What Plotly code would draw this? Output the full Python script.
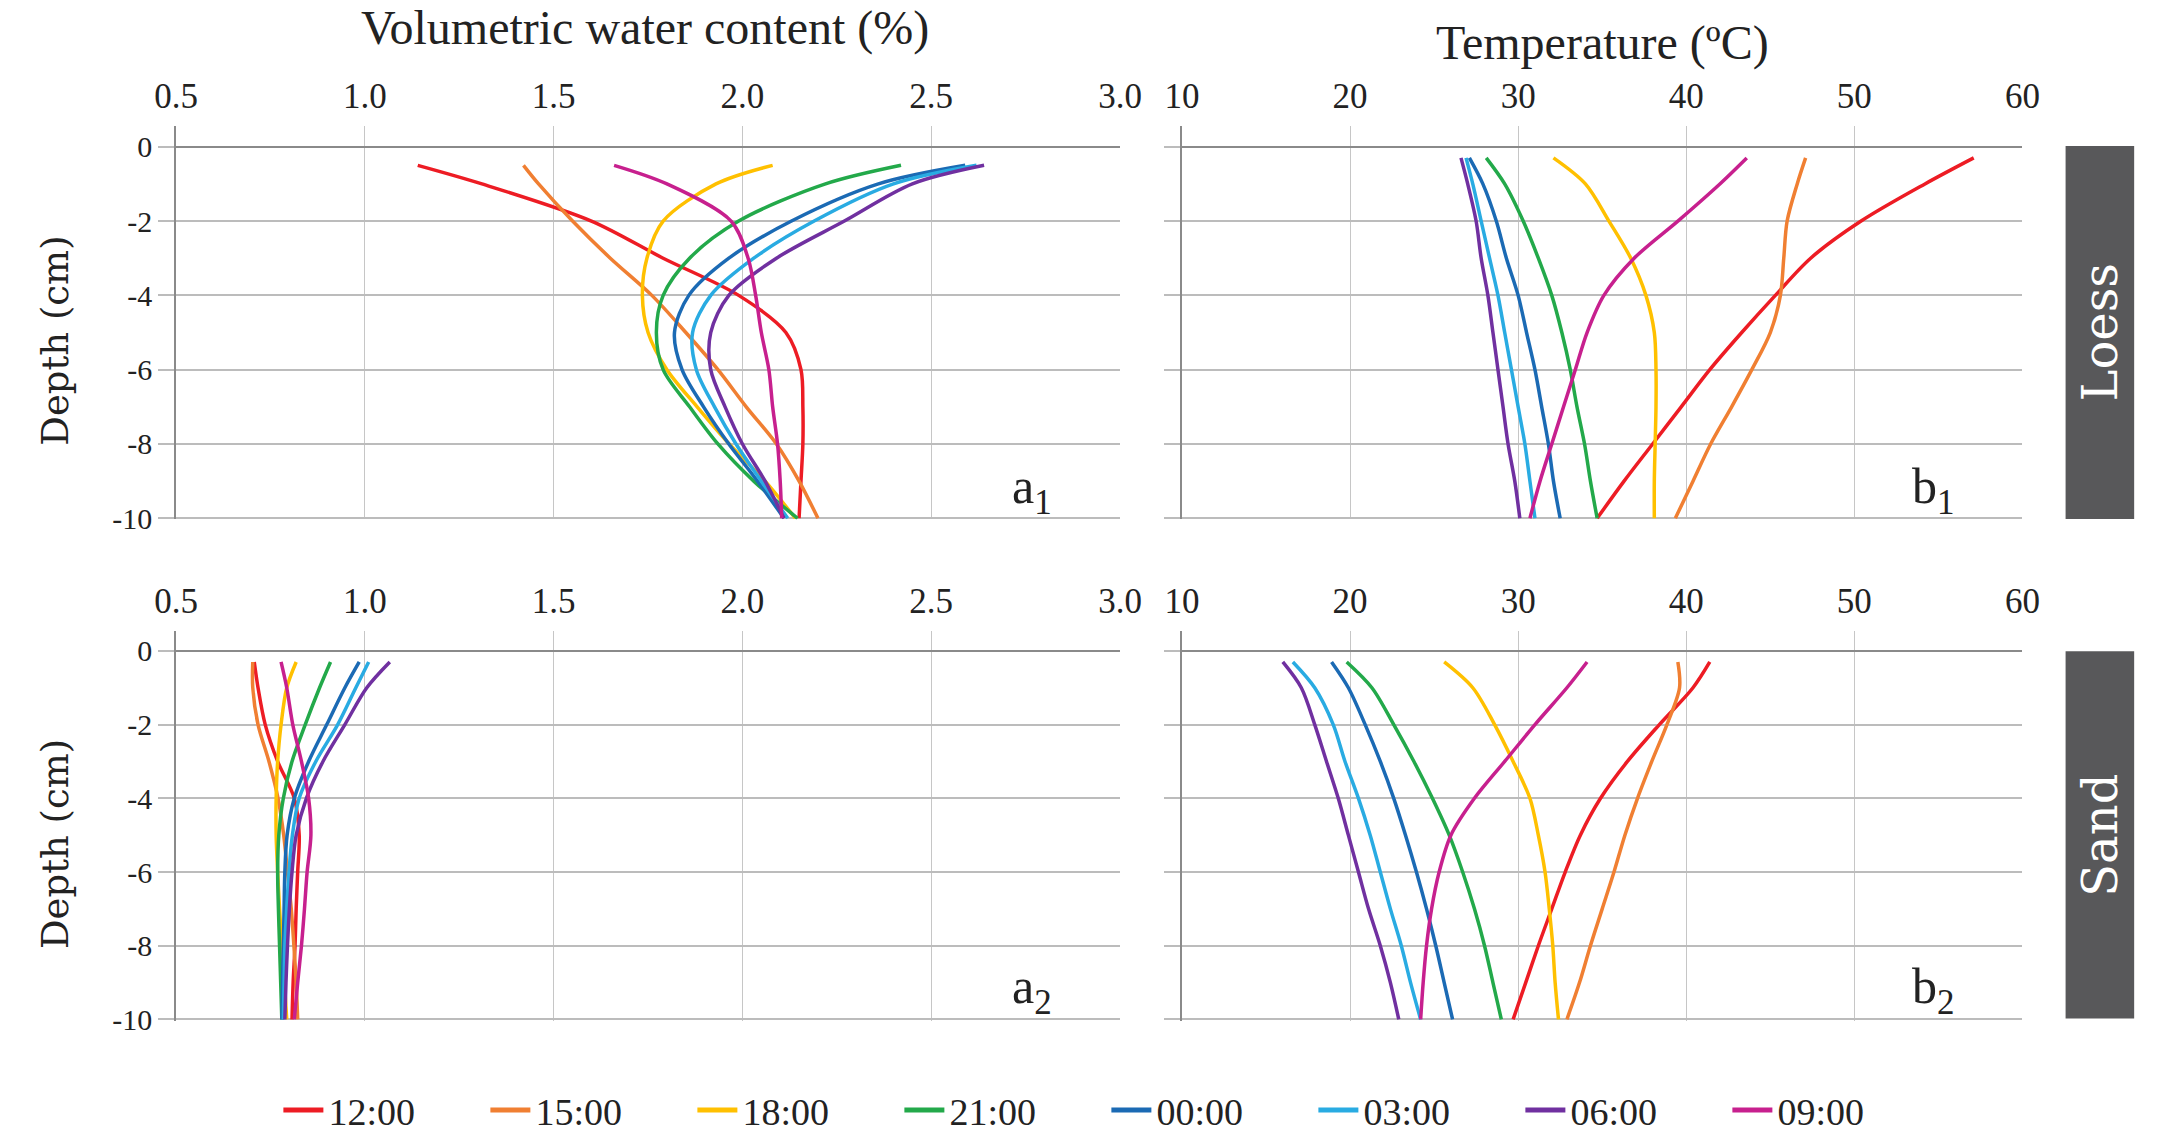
import plotly.graph_objects as go

W, H = 2164, 1144

times = ["12:00", "15:00", "18:00", "21:00", "00:00", "03:00", "06:00", "09:00"]
colors = ["#ED1C24", "#F07F32", "#FFC000", "#23A94A", "#1B6AB4", "#29ABE2", "#7030A0", "#C7208E"]

depth_a1 = [-0.5, -1, -2, -3, -4, -5, -6, -7, -8, -9, -10]
depth = [-0.3, -1, -2, -3, -4, -5, -6, -7, -8, -9, -10]
depth_ticks = [0, -2, -4, -6, -8, -10]
depth_ticktext = ["0", "-2", "-4", "-6", "-8", "-10"]

# a1: Loess volumetric water content (%)
a1_1200 = [1.14, 1.31, 1.60, 1.79, 1.99, 2.115, 2.155, 2.16, 2.16, 2.155, 2.15]
a1_1500 = [1.42, 1.46, 1.55, 1.65, 1.76, 1.85, 1.935, 2.01, 2.09, 2.15, 2.20]
a1_1800 = [2.08, 1.93, 1.79, 1.747, 1.735, 1.75, 1.80, 1.88, 1.965, 2.06, 2.14]
a1_2100 = [2.42, 2.22, 1.99, 1.86, 1.79, 1.772, 1.79, 1.86, 1.935, 2.03, 2.146]
a1_0000 = [2.59, 2.36, 2.13, 1.964, 1.858, 1.82, 1.84, 1.897, 1.964, 2.04, 2.11]
a1_0300 = [2.62, 2.40, 2.19, 2.03, 1.916, 1.868, 1.878, 1.926, 1.983, 2.05, 2.12]
a1_0600 = [2.64, 2.45, 2.27, 2.09, 1.964, 1.916, 1.916, 1.954, 2.00, 2.06, 2.11]
a1_0900 = [1.66, 1.80, 1.97, 2.015, 2.035, 2.05, 2.07, 2.08, 2.093, 2.10, 2.104]

# b1: Loess temperature (degC)
b1_1200 = [57.1, 54.2, 50.4, 47.4, 45.3, 43.3, 41.4, 39.7, 38.0, 36.3, 34.7]
b1_1500 = [47.1, 46.6, 46.0, 45.8, 45.6, 45.0, 43.9, 42.7, 41.45, 40.4, 39.35]
b1_1800 = [32.1, 34.0, 35.4, 36.7, 37.6, 38.1, 38.2, 38.2, 38.15, 38.1, 38.1]
b1_2100 = [28.1, 29.2, 30.3, 31.2, 32.0, 32.6, 33.1, 33.5, 33.95, 34.3, 34.7]
b1_0000 = [27.1, 27.9, 28.7, 29.3, 30.0, 30.5, 31.0, 31.4, 31.8, 32.1, 32.5]
b1_0300 = [26.9, 27.3, 27.8, 28.3, 28.8, 29.2, 29.6, 30.0, 30.4, 30.7, 31.0]
b1_0600 = [26.6, 27.0, 27.5, 27.8, 28.2, 28.5, 28.8, 29.1, 29.4, 29.8, 30.1]
b1_0900 = [43.6, 42.0, 39.5, 36.9, 35.1, 34.1, 33.4, 32.7, 32.0, 31.3, 30.7]

# a2: Sand volumetric water content (%)
a2_1200 = [0.707, 0.717, 0.736, 0.769, 0.813, 0.826, 0.822, 0.818, 0.815, 0.81, 0.807]
a2_1500 = [0.703, 0.703, 0.717, 0.746, 0.77, 0.785, 0.795, 0.805, 0.812, 0.818, 0.822]
a2_1800 = [0.818, 0.793, 0.778, 0.769, 0.765, 0.765, 0.769, 0.774, 0.78, 0.787, 0.793]
a2_2100 = [0.909, 0.88, 0.842, 0.807, 0.784, 0.772, 0.769, 0.771, 0.774, 0.777, 0.78]
a2_0000 = [0.985, 0.947, 0.899, 0.851, 0.813, 0.794, 0.788, 0.786, 0.784, 0.782, 0.78]
a2_0300 = [1.01, 0.976, 0.928, 0.870, 0.826, 0.808, 0.799, 0.793, 0.788, 0.786, 0.784]
a2_0600 = [1.066, 1.005, 0.947, 0.889, 0.845, 0.818, 0.807, 0.80, 0.795, 0.791, 0.788]
a2_0900 = [0.778, 0.793, 0.809, 0.832, 0.851, 0.857, 0.847, 0.84, 0.832, 0.822, 0.813]

# b2: Sand temperature (degC)
b2_1200 = [41.4, 40.4, 38.4, 36.5, 34.9, 33.7, 32.8, 32.0, 31.2, 30.45, 29.7]
b2_1500 = [39.5, 39.6, 38.85, 37.95, 37.1, 36.35, 35.7, 35.0, 34.3, 33.65, 32.9]
b2_1800 = [25.6, 27.3, 28.6, 29.7, 30.7, 31.2, 31.6, 31.85, 32.06, 32.2, 32.4]
b2_2100 = [19.8, 21.3, 22.6, 23.8, 24.9, 25.9, 26.7, 27.4, 28.0, 28.5, 29.0]
b2_0000 = [18.9, 19.9, 20.9, 21.8, 22.6, 23.3, 23.95, 24.55, 25.1, 25.6, 26.1]
b2_0300 = [16.6, 17.9, 19.0, 19.7, 20.5, 21.2, 21.8, 22.4, 23.05, 23.6, 24.2]
b2_0600 = [16.0, 17.1, 17.9, 18.6, 19.3, 19.9, 20.5, 21.1, 21.8, 22.4, 22.9]
b2_0900 = [34.1, 32.9, 31.0, 29.2, 27.4, 26.0, 25.3, 24.85, 24.55, 24.35, 24.2]

panels = [
    ("x", "y", depth_a1, [a1_1200, a1_1500, a1_1800, a1_2100, a1_0000, a1_0300, a1_0600, a1_0900]),
    ("x2", "y2", depth, [b1_1200, b1_1500, b1_1800, b1_2100, b1_0000, b1_0300, b1_0600, b1_0900]),
    ("x3", "y3", depth, [a2_1200, a2_1500, a2_1800, a2_2100, a2_0000, a2_0300, a2_0600, a2_0900]),
    ("x4", "y4", depth, [b2_1200, b2_1500, b2_1800, b2_2100, b2_0000, b2_0300, b2_0600, b2_0900]),
]

SERIF = "Liberation Serif"
WIDE = "DejaVu Serif"

fig = go.Figure()
for pi, (xa, ya, d, series) in enumerate(panels):
    for i, vals in enumerate(series):
        fig.add_trace(go.Scatter(
            x=vals, y=d, xaxis=xa, yaxis=ya, mode="lines",
            line=dict(color=colors[i], width=3.5, shape="spline", smoothing=0.9),
            name=times[i], showlegend=False, legendgroup=times[i],
        ))
# legend entries (thicker sample lines, as in the reference)
for i, t in enumerate(times):
    fig.add_trace(go.Scatter(x=[None], y=[None], xaxis="x", yaxis="y", mode="lines",
                             line=dict(color=colors[i], width=5), name=t,
                             legendgroup=t, showlegend=True))

def px_x(p):
    return p / W

def px_y(p):
    return 1 - p / H

xa_dom = [px_x(157.3), px_x(1120.8)]
xb_dom = [px_x(1184), px_x(2042)]
top_dom = [px_y(526.3), px_y(128.0)]
bot_dom = [px_y(1034.1), px_y(639.0)]

def xaxis(dom, anchor, rng, dtick, fmt):
    return dict(domain=dom, anchor=anchor, side="top", range=rng, dtick=dtick, tick0=rng[0],
                tickformat=fmt, showgrid=True, gridcolor="#c6c6c6", gridwidth=1,
                zeroline=False, showline=False, ticks="", ticklabelstandoff=10,
                tickfont=dict(family=SERIF, size=35, color="#222222"), fixedrange=True)

def yaxis(dom, anchor, labels):
    return dict(domain=dom, anchor=anchor, range=[-10.03, 0.55],
                tickmode="array", tickvals=depth_ticks, ticktext=depth_ticktext,
                showgrid=True, gridcolor="#bcbcbc", gridwidth=2,
                zeroline=True, zerolinecolor="#8a8a8a", zerolinewidth=2,
                showline=True, linecolor="#8a8a8a", linewidth=1.5,
                ticks="outside", ticklen=16, tickwidth=2, tickcolor="#bcbcbc",
                showticklabels=labels, tickfont=dict(family=SERIF, size=30, color="#222222"),
                fixedrange=True)

fig.update_layout(
    width=W, height=H, autosize=False,
    margin=dict(l=0, r=0, t=0, b=0),
    paper_bgcolor="white", plot_bgcolor="white",
    xaxis=xaxis(xa_dom, "y", [0.5, 3.0], 0.5, ".1f"),
    yaxis=yaxis(top_dom, "x", True),
    xaxis2=xaxis(xb_dom, "y2", [10, 60], 10, "d"),
    yaxis2=yaxis(top_dom, "x2", False),
    xaxis3=xaxis(xa_dom, "y3", [0.5, 3.0], 0.5, ".1f"),
    yaxis3=yaxis(bot_dom, "x3", True),
    xaxis4=xaxis(xb_dom, "y4", [10, 60], 10, "d"),
    yaxis4=yaxis(bot_dom, "x4", False),
    legend=dict(orientation="h", x=0.5115, xanchor="center", y=px_y(1125), yanchor="middle",
                font=dict(family=SERIF, size=38, color="#222222"),
                entrywidth=152, entrywidthmode="pixels", itemwidth=40,
                bgcolor="rgba(0,0,0,0)"),
)

ann = []
ann.append(dict(text="Volumetric water content (%)", x=px_x(636), y=px_y(28), xref="paper", yref="paper",
                showarrow=False, xanchor="center", yanchor="middle",
                font=dict(family=SERIF, size=48, color="#222222")))
ann.append(dict(text="Temperature (ºC)", x=px_x(1613), y=px_y(44), xref="paper", yref="paper",
                showarrow=False, xanchor="center", yanchor="middle",
                font=dict(family=SERIF, size=48, color="#222222")))
for yc in (345, 855):
    ann.append(dict(text="Depth (cm)", x=px_x(34), y=px_y(yc), xref="paper", yref="paper",
                    showarrow=False, xanchor="center", yanchor="middle", textangle=-90,
                    font=dict(family=WIDE, size=37, color="#222222")))
for txt, xp, yp in [("a<sub>1</sub>", 1008, 497), ("b<sub>1</sub>", 1927, 497),
                    ("a<sub>2</sub>", 1008, 1003), ("b<sub>2</sub>", 1927, 1003)]:
    ann.append(dict(text=txt, x=px_x(xp), y=px_y(yp), xref="paper", yref="paper",
                    showarrow=False, xanchor="left", yanchor="middle",
                    font=dict(family=SERIF, size=50, color="#222222")))

shapes = []
for lbl, y0, y1 in [("Loess", 148, 526), ("Sand", 660, 1032)]:
    shapes.append(dict(type="rect", xref="paper", yref="paper",
                       x0=px_x(2086), x1=px_x(2156), y0=px_y(y1), y1=px_y(y0),
                       fillcolor="#58585A", line=dict(width=0)))
    ann.append(dict(text=lbl, x=px_x(2121), y=px_y((y0 + y1) / 2), xref="paper", yref="paper",
                    showarrow=False, xanchor="center", yanchor="middle", textangle=-90,
                    font=dict(family=WIDE, size=48, color="white")))

fig.update_layout(annotations=ann, shapes=shapes)
fig.write_html("out.html")
